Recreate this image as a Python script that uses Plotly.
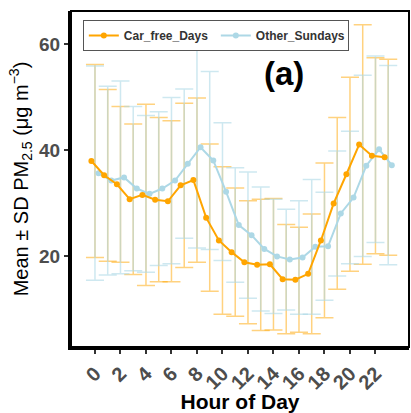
import plotly.graph_objects as go

# ---- data ----
hours = list(range(24))
car_free_mean = [37.9, 35.2, 33.5, 30.7, 31.5, 30.6, 30.3, 33.3, 34.3, 27.2, 22.9, 20.7,
                 18.8, 18.3, 18.4, 15.6, 15.5, 16.6, 22.9, 29.9, 35.4, 41.0, 38.9, 38.6]
car_free_sd = [18.2, 16.2, 14.7, 14.2, 17.1, 15.5, 15.2, 15.5, 15.5, 13.9, 13.9, 12.1,
               11.6, 12.4, 12.4, 10.3, 9.9, 11.3, 14.6, 16.2, 18.3, 22.6, 18.5, 18.5]
other_mean = [35.6, 34.2, 34.8, 32.7, 31.7, 32.7, 34.2, 37.4, 40.5, 38.0, 32.1, 25.8,
              23.9, 21.3, 19.9, 19.3, 19.7, 21.7, 21.8, 28.0, 31.0, 37.0, 40.1, 37.1]
other_sd = [20.2, 17.8, 18.2, 15.5, 14.8, 14.5, 15.7, 14.1, 19.0, 16.8, 13.0, 10.8,
            11.9, 11.7, 10.8, 9.5, 10.7, 12.7, 10.2, 11.8, 12.5, 17.1, 17.6, 18.8]
x_tick_vals = list(range(0, 23, 2))
y_tick_vals = [20, 40, 60]
series_names = ["Car_free_Days", "Other_Sundays"]

ORANGE = "#FFA500"
BLUE = "#ADD8E6"
ORANGE_A = "rgba(255,165,0,0.5)"
BLUE_A = "rgba(173,216,230,0.6)"
DODGE = 0.28
FONT = "Liberation Sans, Arial, sans-serif"

fig = go.Figure()

# error bars (centred on the hour)
for mean, sd, col in [(car_free_mean, car_free_sd, ORANGE_A), (other_mean, other_sd, BLUE_A)]:
    fig.add_trace(go.Scatter(
        x=hours, y=mean, mode="markers",
        marker=dict(size=1, color="rgba(0,0,0,0)"),
        error_y=dict(type="data", array=sd, visible=True, color=col, thickness=1.5, width=9),
        showlegend=False, hoverinfo="skip"))

# mean lines (dodged)
fig.add_trace(go.Scatter(
    x=[h + DODGE for h in hours], y=other_mean, mode="lines+markers",
    name=series_names[1], legendrank=2,
    line=dict(color=BLUE, width=2), marker=dict(color=BLUE, size=6)))
fig.add_trace(go.Scatter(
    x=[h - DODGE for h in hours], y=car_free_mean, mode="lines+markers",
    name=series_names[0], legendrank=1,
    line=dict(color=ORANGE, width=2), marker=dict(color=ORANGE, size=6)))

axis_common = dict(
    showgrid=False, zeroline=False, ticks="outside", ticklen=4, tickwidth=1.5,
    tickcolor="#333333", showline=True, linecolor="black", linewidth=3,
)

fig.update_layout(
    width=411, height=413,
    margin=dict(l=71, r=2, t=11, b=63),
    paper_bgcolor="white", plot_bgcolor="white",
    font=dict(family=FONT),
    xaxis=dict(range=[-1.88, 24.63], tickvals=x_tick_vals, tickangle=-45,
               tickfont=dict(family=FONT, size=20, color="#4D4D4D", weight="bold"),
               title=dict(text="Hour of Day", standoff=3,
                          font=dict(family=FONT, size=21, color="black", weight="bold")),
               **axis_common),
    yaxis=dict(range=[2.8, 66.2], tickvals=y_tick_vals,
               tickfont=dict(family=FONT, size=19, color="#4D4D4D", weight="bold"),
               title=dict(text="Mean ± SD PM<sub>2.5</sub> (μg m<sup>−3</sup>)", standoff=6,
                          font=dict(family=FONT, size=20, color="black")),
               **axis_common),
    legend=dict(x=0.035, y=0.973, xanchor="left", yanchor="top", orientation="h",
                bgcolor="white", bordercolor="#555555", borderwidth=1,
                font=dict(family=FONT, size=12, color="#333333", weight="bold"),
                itemwidth=30, entrywidth=87, entrywidthmode="pixels"),
    showlegend=True,
)

# panel border
fig.add_shape(type="rect", xref="paper", yref="paper", x0=0, y0=0, x1=1, y1=1,
              line=dict(color="black", width=2), layer="above")

fig.add_annotation(text="(a)", xref="paper", yref="paper", x=0.63, y=0.876,
                   showarrow=False, font=dict(family=FONT, size=33, color="black", weight="bold"))

fig.write_html("out.html")
